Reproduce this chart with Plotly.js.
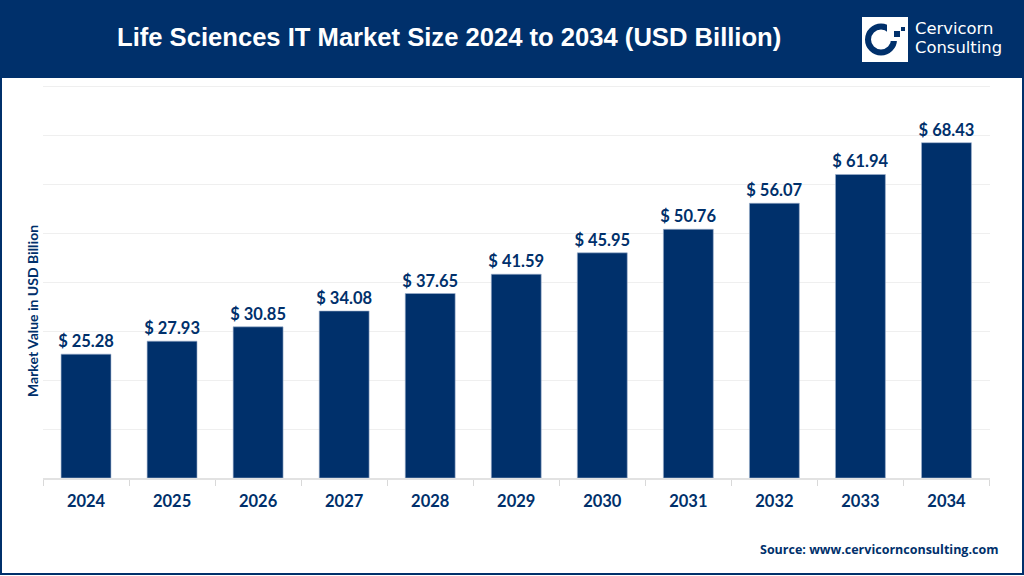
<!DOCTYPE html>
<html>
<head>
<meta charset="utf-8">
<script src="https://cdn.plot.ly/plotly-3.0.1.min.js"></script>
<style>html,body{margin:0;padding:0;background:#fff;overflow:hidden}#chart{width:1024px;height:576px}</style>
</head>
<body>
<div id="chart"></div>
<script>
var categories = ["2024","2025","2026","2027","2028","2029","2030","2031","2032","2033","2034"];
var marketValues = [25.28,27.93,30.85,34.08,37.65,41.59,45.95,50.76,56.07,61.94,68.43];
var valueLabels = ["$ 25.28","$ 27.93","$ 30.85","$ 34.08","$ 37.65","$ 41.59","$ 45.95","$ 50.76","$ 56.07","$ 61.94","$ 68.43"];
var titleText = "Life Sciences IT Market Size 2024 to 2034 (USD Billion)";
var yTitle = "Market Value in USD Billion";
var sourceText = "Source: www.cervicornconsulting.com";

var NAVY = "#00306b";
var W = 1024, H = 576;
function px(x){return x/W;}
function py(y){return 1-y/H;}
function rect(x0,y0,x1,y1,fill,line,lw){
  return {type:"rect",xref:"paper",yref:"paper",x0:px(x0),x1:px(x1),y0:py(y0),y1:py(y1),
    fillcolor:fill,line:{color:line||fill,width:lw||0},layer:"above"};
}
var shapes = [
  rect(0,0,1024,78,NAVY),
  rect(1,1,1023,574,"rgba(0,0,0,0)",NAVY,2),
  rect(862,17,908,62,"#ffffff"),
  {type:"circle",xref:"paper",yref:"paper",x0:px(868),x1:px(894),y0:py(26.5),y1:py(52.5),
   fillcolor:"rgba(0,0,0,0)",line:{color:NAVY,width:6},layer:"above"},
  rect(887,18,907,41,"#ffffff"),
  rect(894,31,900,37,NAVY),
  rect(901,27,905,31,NAVY)
];
var annotations = [
  {text:"<b>"+titleText+"</b>",xref:"paper",yref:"paper",x:px(449),y:py(37.5),xanchor:"center",yanchor:"middle",
   showarrow:false,font:{family:"Liberation Sans, Arial, sans-serif",size:25.6,color:"#ffffff"}},
  {text:"Cervicorn",xref:"paper",yref:"paper",x:px(913),y:py(29),xanchor:"left",yanchor:"middle",
   showarrow:false,font:{family:"DejaVu Sans, sans-serif",size:16.4,color:"#ffffff"}},
  {text:"Consulting",xref:"paper",yref:"paper",x:px(913),y:py(47.5),xanchor:"left",yanchor:"middle",
   showarrow:false,font:{family:"DejaVu Sans, sans-serif",size:16.4,color:"#ffffff"}},
  {text:"<b>"+sourceText+"</b>",xref:"paper",yref:"paper",x:px(1000),y:py(549),xanchor:"right",yanchor:"middle",
   showarrow:false,font:{family:"Open Sans, Noto Sans, sans-serif",size:12.5,color:NAVY}},
  {text:"<b>"+yTitle+"</b>",xref:"paper",yref:"paper",x:px(32),y:py(311),xanchor:"center",yanchor:"middle",textangle:-90,
   showarrow:false,font:{family:"Lato, Noto Sans, sans-serif",size:14,color:NAVY}}
];
var trace = {
  type:"bar",x:categories,y:marketValues,text:valueLabels,
  textposition:"outside",cliponaxis:false,width:0.58,constraintext:"none",
  texttemplate:"<b>%{text}</b>",
  textfont:{family:"Lato, Noto Sans, sans-serif",size:16.5,color:NAVY},
  marker:{color:NAVY,line:{color:"#9fb2cf",width:0.6}},
  hoverinfo:"skip"
};
var layout = {
  width:W,height:H,margin:{l:0,r:0,t:0,b:0,pad:0},
  paper_bgcolor:"#ffffff",plot_bgcolor:"#ffffff",showlegend:false,
  xaxis:{domain:[43/W,989.5/W],type:"category",tickson:"boundaries",ticks:"outside",ticklen:6,tickwidth:1,tickcolor:"#d9d9d9",
    showline:true,linecolor:"#e2e2e2",linewidth:1.5,showgrid:false,zeroline:false,ticklabelstandoff:8,
    tickfont:{family:"Lato, Noto Sans, sans-serif",size:16.5,color:NAVY,weight:"bold"}},
  yaxis:{domain:[1-478/H,1-84/H],range:[0,80.408],dtick:10,showticklabels:false,ticks:"",
    showgrid:true,gridcolor:"#efefef",gridwidth:1,zeroline:false,showline:false},
  shapes:shapes,annotations:annotations
};
Plotly.newPlot("chart",[trace],layout,{displayModeBar:false,staticPlot:true});
</script>
</body>
</html>
